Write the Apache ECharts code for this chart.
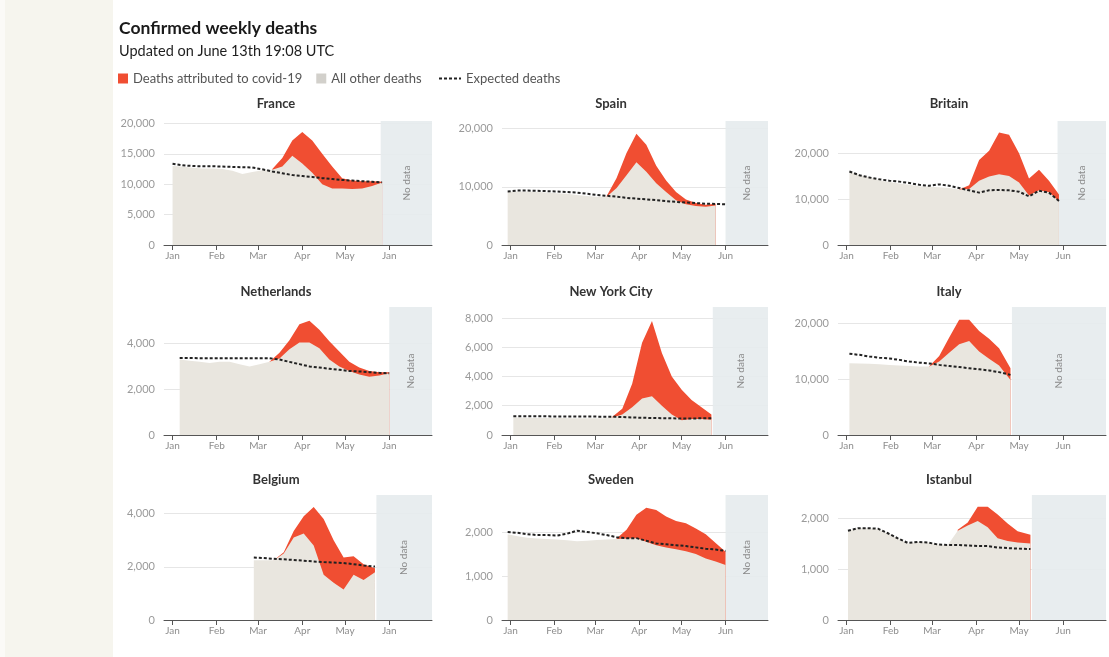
<!DOCTYPE html>
<html>
<head>
<meta charset="utf-8">
<title>Confirmed weekly deaths</title>
<script src="https://cdn.jsdelivr.net/npm/echarts@6/dist/echarts.min.js"></script>
<style>
  html, body { margin: 0; padding: 0; }
  body { background: linear-gradient(to right, #fbfaf7 0, #fbfaf7 5px, #f6f5ee 5px, #f6f5ee 113px, #ffffff 113px); }
  #chart { width: 1109px; height: 657px; }
</style>
</head>
<body>
<div id="chart"></div>
<script>
// x axis is day of year 2020 (0 = Jan 1)
const monthStarts = [0, 31, 60, 91, 121, 152]
const monthNames = ['Jan', 'Feb', 'Mar', 'Apr', 'May', 'Jun']
const monthNamesLeft = ['Jan', 'Feb', 'Mar', 'Apr', 'May', 'Jan'] // left column reads "Jan" at the end

const franceDays = [0, 7, 14, 21, 28, 35, 42, 49, 56, 63, 70, 77, 84, 91, 98, 105, 112, 119, 126, 133, 140, 147]
const franceOther = [13000, 12900, 12700, 12600, 12600, 12500, 12200, 11700, 12000, 12300, 12400, 12900, 14700, 13400, 11900, 10000, 9300, 9300, 9200, 9300, 9700, 10300]
const franceCovid = [null, null, null, null, null, null, null, null, null, null, 100, 1400, 2500, 5200, 5300, 5000, 3600, 1700, 1400, 1200, 800, 100]
const franceExpected = [13350, 13100, 13000, 12950, 12950, 12900, 12850, 12800, 12750, 12450, 12100, 11800, 11500, 11350, 11200, 11000, 10850, 10700, 10600, 10500, 10400, 10300]
const franceTicks = [0, 5000, 10000, 15000, 20000]

const spainDays = [-2, 5, 12, 19, 26, 33, 40, 47, 54, 61, 68, 75, 82, 89, 96, 103, 110, 117, 124, 131, 138, 145, 152]
const spainOther = [9100, 9200, 9200, 9100, 9000, 8900, 8800, 8600, 8400, 8300, 8300, 9800, 12000, 14200, 12600, 10600, 9100, 7700, 7000, 6700, 6550, 6800, null]
const spainCovid = [null, null, null, null, null, null, null, null, null, null, 100, 1700, 3800, 4900, 4600, 3000, 2000, 1400, 800, 500, 350, 300, null]
const spainExpected = [9200, 9350, 9350, 9300, 9250, 9200, 9100, 9000, 8800, 8600, 8450, 8300, 8100, 7950, 7850, 7700, 7550, 7400, 7300, 7200, 7100, 7050, 7000]
const spainTicks = [0, 10000, 20000]

const britainDays = [2, 9, 16, 23, 30, 37, 44, 51, 58, 65, 72, 79, 86, 93, 100, 107, 114, 121, 128, 135, 142, 149]
const britainOther = [16000, 15300, 14700, 14100, 13700, 13400, 13100, 12800, 12700, 12600, 12400, 12100, 12200, 14000, 14900, 15400, 15000, 13600, 10800, 11900, 11500, 9500]
const britainCovid = [null, null, null, null, null, null, null, null, null, null, null, 0, 800, 4500, 5600, 9100, 9000, 6400, 3700, 4500, 2500, 1500]
const britainExpected = [16000, 15200, 14700, 14300, 14000, 13800, 13500, 13100, 12900, 13200, 12900, 12400, 11900, 11400, 11900, 12000, 11900, 11600, 10600, 11800, 11400, 9600]
const britainTicks = [0, 10000, 20000]

const nlDays = [5, 12, 19, 26, 33, 40, 47, 54, 61, 68, 75, 82, 89, 96, 103, 110, 117, 124, 131, 138, 145, 152]
const nlOther = [3300, 3250, 3200, 3150, 3200, 3200, 3100, 3000, 3100, 3200, 3350, 3750, 4050, 4050, 3800, 3300, 3000, 2800, 2650, 2550, 2600, 2700]
const nlCovid = [null, null, null, null, null, null, null, null, null, 0, 250, 400, 800, 950, 800, 800, 650, 400, 300, 250, 150, 50]
const nlExpected = [3370, 3370, 3360, 3360, 3360, 3360, 3360, 3360, 3360, 3360, 3300, 3200, 3100, 3000, 2950, 2900, 2850, 2800, 2780, 2750, 2720, 2700]
const nlTicks = [0, 2000, 4000]

const nycDays = [2, 9, 16, 23, 30, 37, 44, 51, 58, 65, 72, 79, 86, 93, 100, 107, 114, 121, 128, 135, 142]
const nycOther = [1200, 1180, 1170, 1160, 1170, 1160, 1150, 1150, 1140, 1150, 1200, 1400, 1900, 2500, 2650, 2000, 1400, 1000, 1100, 1100, 1050]
const nycCovid = [null, null, null, null, null, null, null, null, null, null, 50, 400, 1600, 3800, 5150, 3600, 2600, 2100, 1300, 800, 350]
const nycExpected = [1280, 1280, 1280, 1280, 1270, 1270, 1270, 1260, 1260, 1250, 1250, 1230, 1200, 1180, 1160, 1150, 1140, 1130, 1130, 1140, 1150]
const nycTicks = [0, 2000, 4000, 6000, 8000]

const italyDays = [2, 9, 16, 23, 30, 37, 44, 51, 58, 65, 72, 79, 86, 93, 100, 107, 115]
const italyOther = [12900, 12850, 12800, 12700, 12600, 12500, 12400, 12300, 12300, 13200, 14800, 16300, 16900, 15000, 13700, 12500, 9900]
const italyCovid = [null, null, null, null, null, null, null, null, 50, 1000, 2700, 4400, 3800, 3700, 3600, 3100, 2100]
const italyExpected = [14600, 14400, 14100, 13900, 13750, 13500, 13200, 13000, 12850, 12600, 12400, 12200, 12000, 11800, 11600, 11300, 10800]
const italyTicks = [0, 10000, 20000]

const belgiumDays = [57, 64, 71, 78, 85, 92, 99, 106, 113, 120, 127, 134, 142]
const belgiumOther = [2250, 2250, 2250, 2500, 3100, 3250, 2800, 1700, 1400, 1150, 1700, 1500, 1800]
const belgiumCovid = [null, null, 0, 50, 250, 650, 1450, 2100, 1600, 1200, 700, 600, 150]
const belgiumExpected = [2350, 2330, 2300, 2280, 2260, 2230, 2200, 2180, 2160, 2140, 2100, 2050, 2010]
const belgiumTicks = [0, 2000, 4000]

const swedenDays = [-2, 5, 12, 19, 26, 33, 40, 47, 54, 61, 68, 75, 82, 89, 96, 103, 110, 117, 124, 131, 138, 145, 152]
const swedenOther = [1950, 1900, 1870, 1850, 1840, 1830, 1810, 1790, 1800, 1820, 1830, 1840, 1850, 1860, 1780, 1700, 1650, 1610, 1560, 1500, 1400, 1330, 1250]
const swedenCovid = [null, null, null, null, null, null, null, null, null, null, null, 10, 200, 530, 770, 800, 700, 640, 640, 580, 550, 420, 300]
const swedenExpected = [2000, 1980, 1950, 1930, 1930, 1920, 1960, 2030, 2000, 1970, 1930, 1880, 1860, 1860, 1800, 1740, 1720, 1700, 1680, 1650, 1620, 1600, 1570]
const swedenTicks = [0, 1000, 2000]

const istanbulDays = [1, 8, 15, 22, 29, 36, 43, 50, 57, 64, 71, 78, 85, 92, 99, 106, 113, 120, 129]
const istanbulOther = [1750, 1800, 1800, 1780, 1700, 1600, 1500, 1530, 1520, 1480, 1470, 1750, 1850, 1940, 1820, 1600, 1550, 1520, 1500]
const istanbulCovid = [null, null, null, null, null, null, null, null, null, null, null, 20, 60, 280, 400, 470, 340, 220, 170]
const istanbulExpected = [1750, 1800, 1800, 1790, 1700, 1600, 1510, 1530, 1520, 1480, 1470, 1470, 1460, 1450, 1450, 1420, 1410, 1400, 1390]
const istanbulTicks = [0, 1000, 2000]

const panels = [
  { name: 'France', days: franceDays, other: franceOther, covid: franceCovid, expected: franceExpected, ticks: franceTicks, yMax: 20400, noDataFrom: 146, noDataText: 'No data', months: monthNamesLeft },
  { name: 'Spain', days: spainDays, other: spainOther, covid: spainCovid, expected: spainExpected, ticks: spainTicks, yMax: 21300, noDataFrom: 152, noDataText: 'No data', months: monthNames },
  { name: 'Britain', days: britainDays, other: britainOther, covid: britainCovid, expected: britainExpected, ticks: britainTicks, yMax: 27000, noDataFrom: 148, noDataText: 'No data', months: monthNames },
  { name: 'Netherlands', days: nlDays, other: nlOther, covid: nlCovid, expected: nlExpected, ticks: nlTicks, yMax: 5600, noDataFrom: 152, noDataText: 'No data', months: monthNamesLeft },
  { name: 'New York City', days: nycDays, other: nycOther, covid: nycCovid, expected: nycExpected, ticks: nycTicks, yMax: 8750, noDataFrom: 143, noDataText: 'No data', months: monthNames },
  { name: 'Italy', days: italyDays, other: italyOther, covid: italyCovid, expected: italyExpected, ticks: italyTicks, yMax: 23000, noDataFrom: 116, noDataText: 'No data', months: monthNames },
  { name: 'Belgium', days: belgiumDays, other: belgiumOther, covid: belgiumCovid, expected: belgiumExpected, ticks: belgiumTicks, yMax: 4700, noDataFrom: 143, noDataText: 'No data', months: monthNamesLeft },
  { name: 'Sweden', days: swedenDays, other: swedenOther, covid: swedenCovid, expected: swedenExpected, ticks: swedenTicks, yMax: 2840, noDataFrom: 152, noDataText: 'No data', months: monthNames },
  { name: 'Istanbul', days: istanbulDays, other: istanbulOther, covid: istanbulCovid, expected: istanbulExpected, ticks: istanbulTicks, yMax: 2450, noDataFrom: 130, noDataText: '', months: monthNames }
]

// layout of the 3x3 small multiples
const colLeft = [164, 502, 838]
const colWidth = [268, 266, 268]
const rowTop = [121, 307, 495]
const rowHeight = [124, 128, 125]
const titleX = [276, 611, 949]
const titleTop = [97, 285, 473]

const RED = '#f04e32'
const GREY = '#e9e6df'
const BAND = '#e5ebed'

const pair = (days, vals) => days.map((d, i) => [d, vals[i]])

const myChart = echarts.init(document.getElementById('chart'))

const grids = []
const xAxes = []
const yAxes = []
const series = []
const titles = [
  { text: 'Confirmed weekly deaths', left: 119, top: 19, padding: 0, textStyle: { fontSize: 17.5, fontWeight: 'bold', color: '#1a1a1a' } },
  { text: 'Updated on June 13th 19:08 UTC', left: 119, top: 44, padding: 0, textStyle: { fontSize: 14.5, fontWeight: 'normal', color: '#1e1e1e' } }
]

panels.forEach((p, i) => {
  const row = Math.floor(i / 3)
  const col = i % 3

  titles.push({
    text: p.name,
    left: titleX[col],
    top: titleTop[row],
    textAlign: 'center',
    padding: 0,
    textStyle: { fontSize: 13, fontWeight: 'bold', color: '#333' }
  })

  grids.push({
    left: colLeft[col], width: colWidth[col],
    top: rowTop[row], height: rowHeight[row],
    containLabel: false, outerBoundsMode: 'none'
  })

  xAxes.push({
    gridIndex: i,
    type: 'value',
    min: -6,
    max: 182,
    splitLine: { show: false },
    axisLine: { onZero: false, lineStyle: { color: '#555', width: 1 } },
    axisTick: { customValues: monthStarts, length: 5, lineStyle: { color: '#555' } },
    axisLabel: {
      customValues: monthStarts,
      formatter: v => p.months[monthStarts.indexOf(v)],
      color: '#8d8d8d',
      fontSize: 10,
      margin: 6
    }
  })

  yAxes.push({
    gridIndex: i,
    type: 'value',
    min: 0,
    max: p.yMax,
    axisLine: { show: false, onZero: false },
    axisTick: { show: false, customValues: p.ticks },
    axisLabel: { customValues: p.ticks, color: '#9a9a9a', fontSize: 11, margin: 9 },
    splitLine: { show: true, lineStyle: { color: '#e6e6e6', width: 1 } }
  })

  // covid 死亡 = 总数，画在底下，灰色再盖上去
  const total = p.other.map((v, k) => (p.covid[k] == null || v == null) ? null : v + p.covid[k])
  series.push({
    name: 'Deaths attributed to covid-19',
    type: 'line',
    xAxisIndex: i,
    yAxisIndex: i,
    data: pair(p.days, total),
    symbol: 'none',
    color: RED,
    lineStyle: { width: 0 },
    areaStyle: { color: RED, opacity: 1 },
    z: 1
  })

  // 其他死亡（灰色）
  series.push({
    name: 'All other deaths',
    type: 'line',
    xAxisIndex: i,
    yAxisIndex: i,
    data: pair(p.days, p.other),
    symbol: 'none',
    color: GREY,
    lineStyle: { width: 0 },
    areaStyle: { color: GREY, opacity: 1 },
    z: 2,
    markArea: {
      silent: true,
      itemStyle: { color: BAND, opacity: 0.9 },
      label: {
        show: p.noDataText !== '',
        position: 'inside',
        rotate: 90,
        color: '#8a8a8a',
        fontSize: 10
      },
      data: [[{ xAxis: p.noDataFrom, name: p.noDataText }, { xAxis: 182 }]]
    }
  })

  // 预期死亡 虚线
  series.push({
    name: 'Expected deaths',
    type: 'line',
    xAxisIndex: i,
    yAxisIndex: i,
    data: pair(p.days, p.expected),
    symbol: 'none',
    color: '#222',
    lineStyle: { color: '#222', width: 2, type: [3, 2] },
    z: 3
  })
})

const option = {
  backgroundColor: 'transparent',
  animation: false,
  textStyle: { fontFamily: 'Lato, sans-serif' },
  title: titles,
  legend: [
    {
      left: 118, top: 72, padding: 0,
      selectedMode: false,
      itemWidth: 10, itemHeight: 10, itemGap: 14,
      textStyle: { fontSize: 13, color: '#555' },
      data: [
        { name: 'Deaths attributed to covid-19', icon: 'rect', itemStyle: { color: RED } },
        { name: 'All other deaths', icon: 'rect', itemStyle: { color: '#d2d0cb' } }
      ]
    },
    {
      left: 438, top: 72, padding: 0,
      selectedMode: false,
      itemWidth: 22, itemHeight: 10,
      textStyle: { fontSize: 13, color: '#555' },
      data: [{ name: 'Expected deaths', itemStyle: { opacity: 0 } }]
    }
  ],
  grid: grids,
  xAxis: xAxes,
  yAxis: yAxes,
  series: series
}

myChart.setOption(option)
</script>
</body>
</html>
